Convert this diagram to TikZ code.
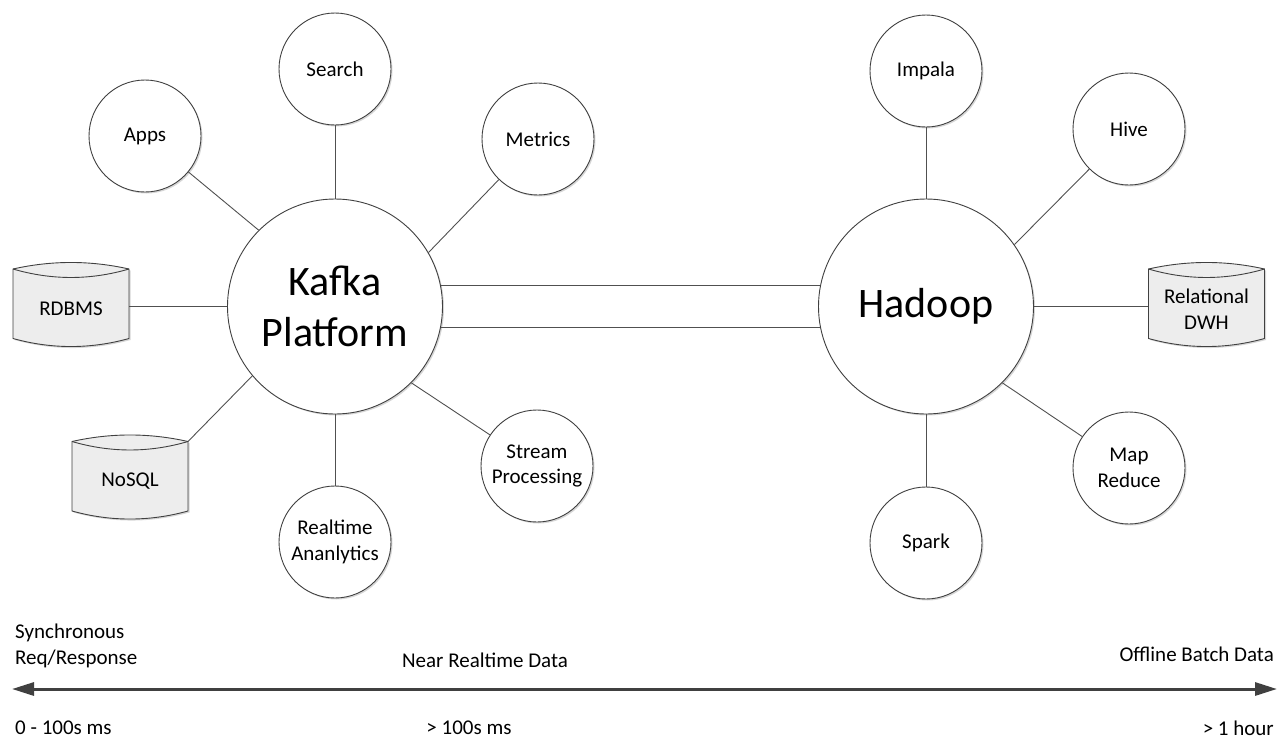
\documentclass[tikz,border=0pt]{standalone}
\usepackage{fontspec}
\setmainfont{Carlito}
\usetikzlibrary{arrows.meta,shadows,calc}
\pgfdeclarelayer{background}
\pgfsetlayers{background,main}
\definecolor{edgecol}{HTML}{404040}
\definecolor{conncol}{HTML}{505050}
\definecolor{dbfill}{HTML}{EDEDED}
\tikzset{
  svc/.style={circle, draw=edgecol, line width=0.9pt, fill=white, minimum size=112pt,
    inner sep=0pt, align=center, font=\fontsize{21}{25.5}\selectfont,
    drop shadow={shadow xshift=1.5pt, shadow yshift=-1.5pt, opacity=0.16, fill=black}},
  hub/.style={svc, minimum size=215pt, font=\fontsize{42}{51}\selectfont},
  db/.style={rectangle, draw=none, minimum width=116pt, minimum height=70pt,
    inner sep=0pt, align=center, font=\fontsize{21}{25.5}\selectfont},
  dbbody/.style={fill=dbfill, draw=edgecol, line width=0.9pt,
    drop shadow={shadow xshift=1.5pt, shadow yshift=-1.5pt, opacity=0.16, fill=black}},
  dbline/.style={draw=edgecol, line width=0.9pt},
  conn/.style={draw=conncol, line width=0.9pt},
  lbl/.style={font=\fontsize{21}{26}\selectfont, inner sep=0pt},
  axisline/.style={draw=edgecol, line width=3pt,
    {Triangle[length=22pt,width=13pt]}-{Triangle[length=22pt,width=13pt]}},
}
% cylinder drawn around a node whose centre is the centre of its text
\newcommand\dbshape[1]{%
  \begin{pgfonlayer}{background}
    \path[dbbody] ($(#1.center)+(-58,-40)$)
      .. controls ($(#1.center)+(-19.3,-48.7)$) and ($(#1.center)+(19.3,-48.7)$) ..
      ($(#1.center)+(58,-40)$) -- ($(#1.center)+(58,29.5)$)
      .. controls ($(#1.center)+(19.3,40.2)$) and ($(#1.center)+(-19.3,40.2)$) ..
      ($(#1.center)+(-58,29.5)$) -- cycle;
    \draw[dbline] ($(#1.center)+(-58,-40)$)
      .. controls ($(#1.center)+(-19.3,-28.7)$) and ($(#1.center)+(19.3,-28.7)$) ..
      ($(#1.center)+(58,-40)$);
  \end{pgfonlayer}}
\begin{document}
\begin{tikzpicture}[x=1pt,y=-1pt]
\useasboundingbox (0,0) rectangle (1278,740);
% Kafka side
\node[svc] (search) at (335,69) {Search};
\node[svc] (apps) at (145,136) {Apps};
\node[svc] (metrics) at (538,139) {Metrics};
\node[hub] (kafka) at (335,306.5) {Kafka\\Platform};
\node[db] (rdbms) at (71,309) {RDBMS};
\dbshape{rdbms}
\node[db] (nosql) at (130,481.5) {NoSQL};
\dbshape{nosql}
\node[svc] (realtime) at (335,542) {Realtime\\Ananlytics};
\node[svc] (stream) at (537,466) {Stream\\Processing};
% Hadoop side
\node[svc] (impala) at (926,71) {Impala};
\node[svc] (hive) at (1129,129) {Hive};
\node[hub] (hadoop) at (926,306.5) {Hadoop};
\node[db] (dwh) at (1206.5,309) {Relational\\DWH};
\dbshape{dwh}
\node[svc] (mapred) at (1129,468) {Map\\Reduce};
\node[svc] (spark) at (926,543) {Spark};
% connectors
\draw[conn] (search) -- (kafka);
\draw[conn] (apps) -- (kafka.135);
\draw[conn] (metrics) -- (kafka.30);
\draw[conn] (rdbms.east |- kafka.west) -- (kafka.west);
\coordinate (nosqlcorner) at ($(nosql.center)+(58,-40)$);
\draw[conn] (nosqlcorner) -- (kafka.220);
\draw[conn] (realtime) -- (kafka);
\draw[conn] (stream) -- (kafka.-45);
\draw[conn] (kafka.11) -- (hadoop.169);
\draw[conn] (kafka.-11) -- (hadoop.-169);
\draw[conn] (impala) -- (hadoop);
\draw[conn] (hive) -- (hadoop.35);
\draw[conn] (hadoop.east) -- (dwh.west |- hadoop.east);
\draw[conn] (mapred) -- (hadoop.-45);
\draw[conn] (spark) -- (hadoop);
% latency axis
\node[lbl, anchor=west, align=left] (sync) at (15,646) {Synchronous\\Req/Response};
\node[lbl, anchor=base] (near) at (485,667) {Near Realtime Data};
\node[lbl, anchor=base east] (offline) at (1274,661) {Offline Batch Data};
\coordinate (axl) at (12,689);
\coordinate (axr) at (1277,689);
\draw[axisline] (axl) -- (axr);
\node[lbl, anchor=base west] (zero) at (15,734) {0 - 100s ms};
\node[lbl, anchor=base] (hundred) at (469,734) {> 100s ms};
\node[lbl, anchor=base east] (hour) at (1274,735) {> 1 hour};
\end{tikzpicture}
\end{document}
